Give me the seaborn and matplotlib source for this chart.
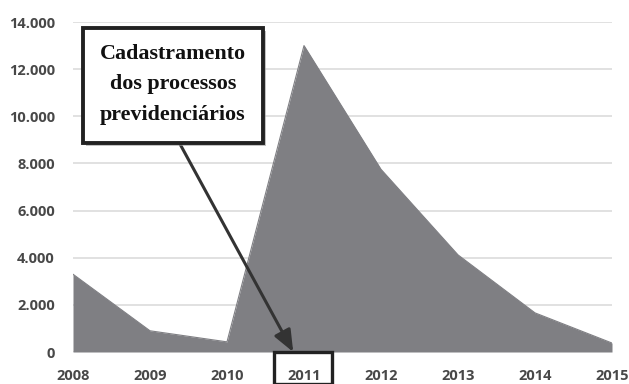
import matplotlib
matplotlib.use("Agg")
import matplotlib.pyplot as plt
import seaborn as sns
import pandas as pd
from matplotlib.ticker import FuncFormatter
from matplotlib.patches import Rectangle

# data
years = [2008, 2009, 2010, 2011, 2012, 2013, 2014, 2015]
processos = [3300, 900, 430, 13000, 7750, 4120, 1660, 380]
y_ticks = [0, 2000, 4000, 6000, 8000, 10000, 12000, 14000]
note_text = "Cadastramento\ndos processos\nprevidenciários"
highlight_year = 2011

sns.set_theme(style="whitegrid")
plt.rcParams['font.family'] = ['Open Sans', 'DejaVu Sans']

df = pd.DataFrame({'ano': years, 'processos': processos})

W, H = 629, 384
fig = plt.figure(figsize=(W / 100, H / 100), dpi=100)
ax = fig.add_axes([73 / W, 1 - 352 / H, (612 - 73) / W, (352 - 22) / H])

ax.fill_between(df['ano'], df['processos'], color='#7f7f83', linewidth=0)
sns.lineplot(data=df, x='ano', y='processos', ax=ax, color='#7f7f83', linewidth=0.8)

ax.set_xlim(years[0], years[-1])
ax.set_ylim(y_ticks[0], y_ticks[-1])
ax.set_xticks(years)
ax.set_yticks(y_ticks)
ax.yaxis.set_major_formatter(FuncFormatter(lambda v, p: f'{int(v):,}'.replace(',', '.')))
ax.set_xlabel('')
ax.set_ylabel('')
ax.grid(axis='x', visible=False)
ax.grid(axis='y', color='#dcdcdc', linewidth=1.2)
ax.set_axisbelow(True)
for s in ax.spines.values():
    s.set_visible(False)
ax.tick_params(axis='y', pad=13, length=0, labelsize=10.5, labelcolor='#484848')
ax.tick_params(axis='x', pad=12, length=0, labelsize=10.5, labelcolor='#484848')
for lab in ax.get_xticklabels() + ax.get_yticklabels():
    lab.set_fontweight('bold')


def fig_px(x, y):
    return x / W, 1 - y / H


# annotation box (shadow + frame) and text
bx0, by0, bx1, by1 = 83, 28, 263, 143
fig.patches.append(Rectangle(fig_px(bx0 + 3, by1 + 3), (bx1 - bx0) / W, (by1 - by0) / H,
                             transform=fig.transFigure, fc='#9a9a9a', ec='none',
                             alpha=0.6, zorder=5))
fig.patches.append(Rectangle(fig_px(bx0, by1), (bx1 - bx0) / W, (by1 - by0) / H,
                             transform=fig.transFigure, fc='white', ec='#222222',
                             lw=2.8, zorder=6))
fig.text(*fig_px((bx0 + bx1) / 2, (by0 + by1) / 2 - 1), note_text,
         ha='center', va='center', fontsize=15.8, fontweight='bold',
         family=['Liberation Serif', 'DejaVu Serif'], linespacing=1.72,
         color='#111111', zorder=7)

# arrow from the box down to the highlighted year
ax.annotate('', xy=(highlight_year - 0.14, 0), xycoords='data',
            xytext=fig_px(180, by1 + 1), textcoords='figure fraction',
            arrowprops=dict(arrowstyle='-|>,head_length=1.1,head_width=0.45',
                            color='#333333', lw=2.2, shrinkA=0, shrinkB=0),
            zorder=4)

# frame around the 2011 tick label
fig.patches.append(Rectangle(fig_px(274, 384), 58 / W, 32 / H,
                             transform=fig.transFigure, fill=False,
                             ec='#222222', lw=2.4))

fig.savefig('out.png', dpi=100)
